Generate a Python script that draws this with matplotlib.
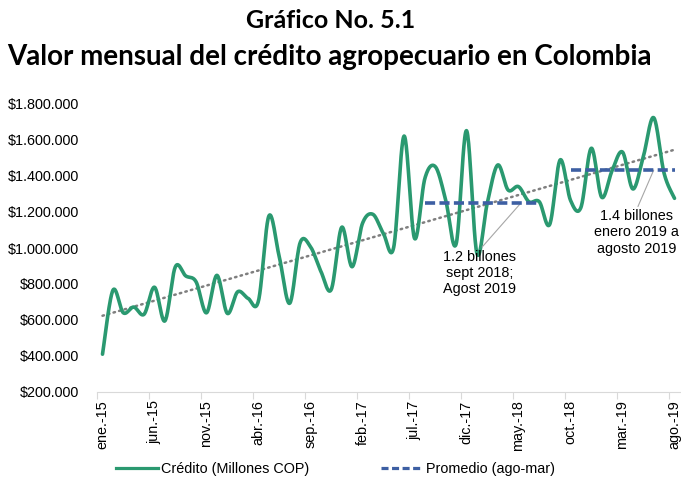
import numpy as np
import matplotlib
matplotlib.use("Agg")
import matplotlib.pyplot as plt
from matplotlib.lines import Line2D

# ---------------- data ----------------
month_names = ['ene', 'feb', 'mar', 'abr', 'may', 'jun', 'jul', 'ago', 'sep', 'oct', 'nov', 'dic']
years = ['15', '16', '17', '18', '19']
categories = [f"{m}.-{y}" for y in years for m in month_names][:56]   # ene.-15 ... ago.-19

credito = [410000, 765000, 640000, 672000, 632000, 782000, 595000, 895000, 845000, 812000,
           640000, 848000, 637000, 757000, 720000, 707000, 1178000, 950000, 693000, 1029000,
           1007000, 870000, 770000, 1115000, 896000, 1137000, 1187000, 1082000, 1004000, 1622000,
           1054000, 1387000, 1452000, 1267000, 1022000, 1652000, 970000, 1250000, 1461000, 1322000,
           1341000, 1257000, 1257000, 1131000, 1489000, 1265000, 1225000, 1554000, 1282000, 1430000,
           1533000, 1328000, 1507000, 1724000, 1415000, 1276000]

prom1_value = 1248000
prom1_start, prom1_end = 'ago.-17', 'jul.-18'
prom2_value = 1433000
prom2_start, prom2_end = 'oct.-18', 'ago.-19'

tick_labels = categories[::5]

title1 = "Gráfico No. 5.1"
title2 = "Valor mensual del crédito agropecuario en Colombia"
note1 = "1.2 billones\nsept 2018;\nAgost 2019"
note2 = "1.4 billones\nenero 2019 a\nagosto 2019"
legend_labels = ['Crédito (Millones COP)', 'Promedio (ago-mar)']

# ---------------- helpers ----------------
def smooth(yv, n=24):
    """Excel-like smoothed line (Catmull-Rom Bezier)."""
    yv = np.asarray(yv, float)
    xv = np.arange(len(yv), dtype=float)
    xs, ys = [], []
    t = np.linspace(0, 1, n, endpoint=False)
    N = len(yv)
    for i in range(N - 1):
        p0 = max(i - 1, 0)
        p3 = min(i + 2, N - 1)
        c1x = xv[i] + (xv[i + 1] - xv[p0]) / 6
        c1y = yv[i] + (yv[i + 1] - yv[p0]) / 6
        c2x = xv[i + 1] - (xv[p3] - xv[i]) / 6
        c2y = yv[i + 1] - (yv[p3] - yv[i]) / 6
        b0 = (1 - t) ** 3
        b1 = 3 * (1 - t) ** 2 * t
        b2 = 3 * (1 - t) * t ** 2
        b3 = t ** 3
        xs.append(b0 * xv[i] + b1 * c1x + b2 * c2x + b3 * xv[i + 1])
        ys.append(b0 * yv[i] + b1 * c1y + b2 * c2y + b3 * yv[i + 1])
    xs.append([xv[-1]])
    ys.append([yv[-1]])
    return np.concatenate(xs), np.concatenate(ys)

def fmt(v):
    return "$" + f"{int(v):,}".replace(",", ".")

# ---------------- plot ----------------
plt.rcParams['font.family'] = ['Liberation Sans', 'DejaVu Sans']
W, H = 681, 487
fig = plt.figure(figsize=(W / 100, H / 100), dpi=100)
ax = fig.add_axes([97.3 / W, 1 - 392 / H, (679.7 - 97.3) / W, (392 - 104) / H])

green = '#2A9970'
blue = '#3D5FA3'
grey = '#7F7F7F'
fs = 10.4

x = np.arange(len(credito))
sx, sy = smooth(credito)
ax.plot(sx, sy, color=green, lw=2.6, solid_capstyle='round', solid_joinstyle='round', zorder=3)

# linear trend
coef = np.polyfit(x, credito, 1)
ax.plot([x[0], x[-1]], np.polyval(coef, [x[0], x[-1]]), color=grey, lw=1.8,
        linestyle=(0, (0.6, 1.7)), dash_capstyle='round', zorder=2)

# averages
i1a, i1b = categories.index(prom1_start), categories.index(prom1_end)
i2a, i2b = categories.index(prom2_start), categories.index(prom2_end)
dash = (0, (2.8, 1.2))
ax.plot([i1a, i1b], [prom1_value, prom1_value], color=blue, lw=2.6, linestyle=dash,
        dash_capstyle='butt', zorder=4)
ax.plot([i2a, i2b], [prom2_value, prom2_value], color=blue, lw=2.6, linestyle=dash,
        dash_capstyle='butt', zorder=4)

# annotations
ax.annotate(note1, xy=(40.2, prom1_value), xytext=(36.27, 990000), ha='center', va='top',
            fontsize=fs, linespacing=1.2,
            arrowprops=dict(arrowstyle='-', color='#A6A6A6', lw=0.8, shrinkA=0, shrinkB=0,
                            relpos=(0.5, 1.0)))
ax.annotate(note2, xy=(53.0, prom2_value), xytext=(51.37, 1215000), ha='center', va='top',
            fontsize=fs, linespacing=1.2,
            arrowprops=dict(arrowstyle='-', color='#A6A6A6', lw=0.8, shrinkA=0, shrinkB=0,
                            relpos=(0.5, 1.0)))

# axes styling
ax.set_xlim(-0.5, len(credito) - 0.5)
ax.set_ylim(200000, 1800000)
yt = np.arange(200000, 1800001, 200000)
ax.set_yticks(yt)
ax.set_yticklabels([fmt(v) for v in yt], fontsize=fs)
ax.tick_params(axis='y', length=0, pad=13)

ax.set_xticks(np.arange(0, len(credito), 5))
ax.set_xticklabels(tick_labels, rotation=90, fontsize=fs)
ax.set_xticks(np.arange(-0.5, len(credito), 5), minor=True)
ax.tick_params(axis='x', which='major', length=0, pad=6)
ax.tick_params(axis='x', which='minor', length=5, color='#D9D9D9', width=0.8)

for s in ['top', 'right', 'left']:
    ax.spines[s].set_visible(False)
ax.spines['bottom'].set_color('#D9D9D9')
ax.spines['bottom'].set_linewidth(0.8)

# titles
fig.text(331 / W, 1 - 20 / H, title1, ha='center', va='center', fontsize=18,
         fontweight='bold', family=['Lato', 'DejaVu Sans'])
fig.text(329 / W, 1 - 57 / H, title2, ha='center', va='center', fontsize=20,
         fontweight='bold', family=['Lato', 'DejaVu Sans'])

# legend
handles = [Line2D([], [], color=green, lw=2.3),
           Line2D([], [], color=blue, lw=2.3, linestyle=(0, (2.2, 1.1)))]
fig.legend(handles, legend_labels, loc='center',
           bbox_to_anchor=(335.5 / W, 1 - 469 / H), ncol=2, frameon=False, fontsize=fs,
           handlelength=2.9, handletextpad=0.2, columnspacing=5.0)

fig.savefig('out.png', dpi=100)
